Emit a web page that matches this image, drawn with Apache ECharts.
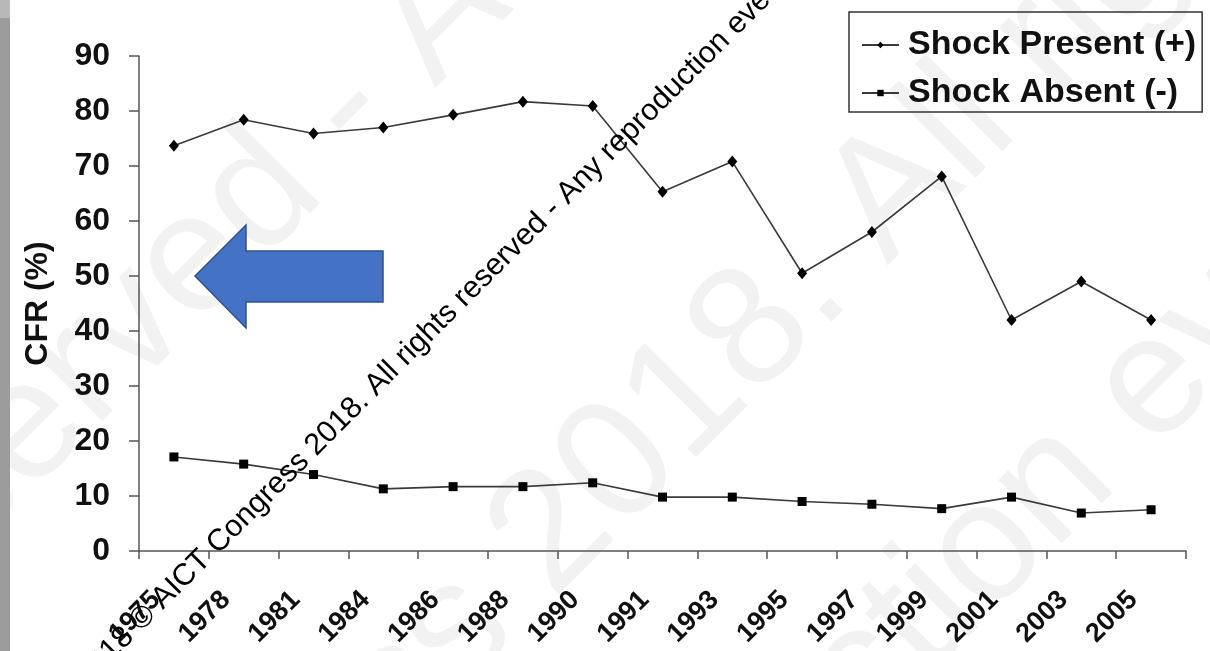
<!DOCTYPE html>
<html>
<head>
<meta charset="utf-8">
<title>CFR by shock status</title>
<script src="https://cdn.jsdelivr.net/npm/echarts@6/dist/echarts.min.js"></script>
<style>
  html, body { margin: 0; padding: 0; background: #ffffff; }
  #chart { width: 1210px; height: 651px; }
</style>
</head>
<body>
<div id="chart"></div>
<script>
// Study years (category axis)
const years = ['1975', '1978', '1981', '1984', '1986', '1988', '1990', '1991',
               '1993', '1995', '1997', '1999', '2001', '2003', '2005'];

// Case fatality rate (%) per period
const shockPresent = [73.7, 78.4, 75.9, 77.0, 79.3, 81.7, 80.9, 65.3,
                      70.8, 50.5, 58.0, 68.1, 42.0, 49.0, 42.0];
const shockAbsent  = [17.1, 15.8, 13.9, 11.3, 11.7, 11.7, 12.4, 9.8,
                      9.8, 9.0, 8.5, 7.7, 9.8, 6.9, 7.5];

// Value axis range
const yMin = 0, yMax = 90, yStep = 10;

const seriesNames = ['Shock Present (+)', 'Shock Absent (-)'];
const yAxisTitle = 'CFR (%)';

const copyright = '2018 \u00A9 AICT Congress 2018. All rights reserved - Any reproduction even partial is forbidden';
const bgMarks = [
  'reserved - Any reproduction',
  'Congress 2018. All rights reserved',
  'reproduction even partial'
];

const FONT = 'Arial, "Liberation Sans", Helvetica, sans-serif';
const INK = '#111111';
const AXIS = '#555555';

const chart = echarts.init(document.getElementById('chart'), null, { renderer: 'canvas' });

const d45 = Math.PI / 4;

chart.setOption({
  backgroundColor: '#ffffff',
  animation: false,
  textStyle: { fontFamily: FONT },
  grid: {
    left: 139, right: 24, top: 56, bottom: 100,
    containLabel: false,
    outerBoundsMode: 'none'
  },
  legend: {
    orient: 'vertical',
    left: 849, top: 12,
    padding: [16, 6, 2, 12],
    itemGap: 14,
    itemWidth: 37,
    itemHeight: 8,
    borderColor: '#333333',
    borderWidth: 1.5,
    backgroundColor: 'transparent',
    textStyle: { fontFamily: FONT, fontSize: 34, fontWeight: 'bold', color: INK, padding: [0, 0, 0, 4] },
    data: seriesNames
  },
  xAxis: {
    type: 'category',
    data: years,
    boundaryGap: true,
    axisLine: { lineStyle: { color: AXIS, width: 1.5 } },
    axisTick: { show: true, length: 8, alignWithLabel: false, lineStyle: { color: AXIS, width: 1.5 } },
    axisLabel: {
      interval: 0,
      rotate: 45,
      margin: 27,
      formatter: function (v) { return '{yr|' + v + '}'; },
      rich: {
        yr: {
          fontFamily: FONT,
          fontSize: 27,
          fontWeight: 'bold',
          color: INK,
          padding: [0, 25, 0, 0]
        }
      }
    },
    splitLine: { show: false }
  },
  yAxis: {
    type: 'value',
    min: yMin, max: yMax, interval: yStep,
    name: yAxisTitle,
    nameLocation: 'middle',
    nameGap: 85,
    nameTextStyle: { fontFamily: FONT, fontSize: 32, fontWeight: 'bold', color: INK },
    axisLine: { show: true, lineStyle: { color: AXIS, width: 1.5 } },
    axisTick: { show: true, length: 10, lineStyle: { color: AXIS, width: 1.5 } },
    axisLabel: { margin: 29, fontFamily: FONT, fontSize: 32, fontWeight: 'bold', color: INK },
    splitLine: { show: false }
  },
  series: [
    {
      name: seriesNames[0],
      type: 'line',
      data: shockPresent,
      symbol: 'diamond',
      symbolSize: [10, 12],
      lineStyle: { color: '#3a3a3a', width: 1.6 },
      itemStyle: { color: '#000000' },
      z: 3
    },
    {
      name: seriesNames[1],
      type: 'line',
      data: shockAbsent,
      symbol: 'rect',
      symbolSize: 9,
      lineStyle: { color: '#3a3a3a', width: 1.6 },
      itemStyle: { color: '#000000' },
      z: 3
    }
  ],
  graphic: [
    // frame strip along the left edge
    { type: 'rect', left: 0, top: 0, z: 50, shape: { width: 10, height: 651 }, style: { fill: '#9c9c9c' } },
    { type: 'rect', left: 0, top: 0, z: 51, shape: { width: 10, height: 18 }, style: { fill: '#b8b8b8' } },

    // faint background lettering
    { type: 'text', x: -173, y: 630, rotation: d45, z: 0, silent: true,
      style: { text: bgMarks[0], font: '170px ' + FONT, fill: 'rgba(0,0,0,0.05)', textAlign: 'left', textVerticalAlign: 'middle' } },
    { type: 'text', x: -28, y: 1115, rotation: d45, z: 0, silent: true,
      style: { text: bgMarks[1], font: '170px ' + FONT, fill: 'rgba(0,0,0,0.05)', textAlign: 'left', textVerticalAlign: 'middle' } },
    { type: 'text', x: 419, y: 1120, rotation: d45, z: 0, silent: true,
      style: { text: bgMarks[2], font: '170px ' + FONT, fill: 'rgba(0,0,0,0.05)', textAlign: 'left', textVerticalAlign: 'middle' } },

    // left-pointing block arrow
    { type: 'polygon', z: 60,
      shape: { points: [[195, 276], [246, 225], [246, 251], [383, 251], [383, 302], [246, 302], [246, 328]] },
      style: { fill: '#4472C4', stroke: '#2F528F', lineWidth: 1.5 } },

    // copyright line
    { type: 'text', x: 81, y: 680, rotation: d45, z: 100, silent: true,
      style: { text: copyright, font: '30.5px ' + FONT, fill: '#000000', textAlign: 'left', textVerticalAlign: 'middle' } }
  ]
});
</script>
</body>
</html>
